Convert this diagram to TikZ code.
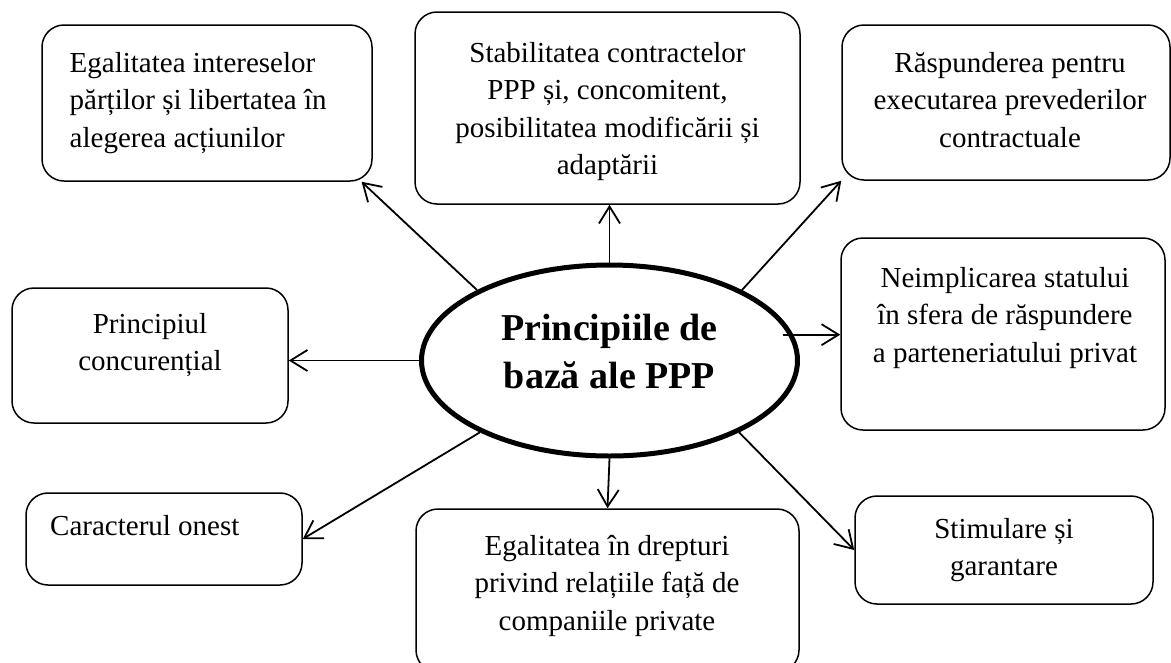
\documentclass[tikz,border=0pt]{standalone}
\usepackage{fontspec}
\setmainfont{Liberation Serif}
\usetikzlibrary{arrows.meta,shapes.geometric}

\begin{document}
\begin{tikzpicture}[x=1pt,y=-1pt,
    box/.style={draw, rounded corners=22pt, line width=1.5pt, inner sep=0pt},
    txt/.style={draw=none, align=center, anchor=north, inner sep=0pt, font=\fontsize{29}{37.5}\selectfont},
    arr/.style={-{Straight Barb[length=17pt,width=21pt]}, line width=1.8pt}]
    \useasboundingbox (0,0) rectangle (1171,662);
    \clip (0,0) rectangle (1171,662);

    % centre - principiile
    \node [draw, ellipse, line width=5pt, minimum width=376pt, minimum height=191pt, name=hub] at (609.5,360.5) {};
    \node [txt, font=\fontsize{38}{48}\selectfont\bfseries, name=hubt] at (609.5,314) {Principiile de\\bază ale PPP};

    % top row
    \node [box, minimum width=330pt, minimum height=156pt, name=b1] at (207,103) {};
    \node [txt, anchor=north west, align=left, name=t1] at (69.5,52) {Egalitatea intereselor\\părților și libertatea în\\alegerea acțiunilor};
    \node [box, minimum width=385pt, minimum height=192pt, name=b2] at (607.5,108) {};
    \node [txt, name=t2] at (607.5,41.7) {Stabilitatea contractelor\\PPP și, concomitent,\\posibilitatea modificării și\\adaptării};
    \node [box, minimum width=328pt, minimum height=155pt, name=b3] at (1006,102.5) {};
    \node [txt, name=t3] at (1010,52) {Răspunderea pentru\\executarea prevederilor\\contractuale};

    % middle row
    \node [box, minimum width=276pt, minimum height=135pt, name=b5] at (150,355.5) {};
    \node [txt, name=t5] at (150,313) {Principiul\\concurențial};
    \node [box, minimum width=324pt, minimum height=192pt, name=b4] at (1003,334) {};
    \node [txt, name=t4] at (1005,266.7) {Neimplicarea statului\\în sfera de răspundere\\a parteneriatului privat};

    % bottom row
    \node [box, minimum width=276pt, minimum height=92pt, name=b6] at (164,539) {};
    \node [txt, anchor=north west, align=left, name=t6] at (50,515) {Caracterul onest};
    \node [box, minimum width=383pt, minimum height=163pt, name=b7] at (607.5,590.5) {};
    \node [txt, name=t7] at (607,535) {Egalitatea în drepturi\\privind relațiile față de\\companiile private};
    \node [box, minimum width=298pt, minimum height=108pt, name=b8] at (1004,550) {};
    \node [txt, name=t8] at (1004,518) {Stimulare și\\garantare};

    % arrows
    \draw [arr] (hub.152) -- (b1.333);
    \draw [arr] (hub.north) -- (hub.north |- b2.south);
    \draw [arr] (hub.28) -- (b3.south west);
    \draw [arr] ([xshift=-10pt]hub.8) -- (hub.8 -| b4.west);
    \draw [arr] (hub.west) -- (hub.west -| b5.east);
    \draw [arr] (hub.209) -- (b6.east);
    \draw [arr] (hub.south) -- (b7.north);
    \draw [arr] (hub.331) -- (b8.west);
\end{tikzpicture}
\end{document}
